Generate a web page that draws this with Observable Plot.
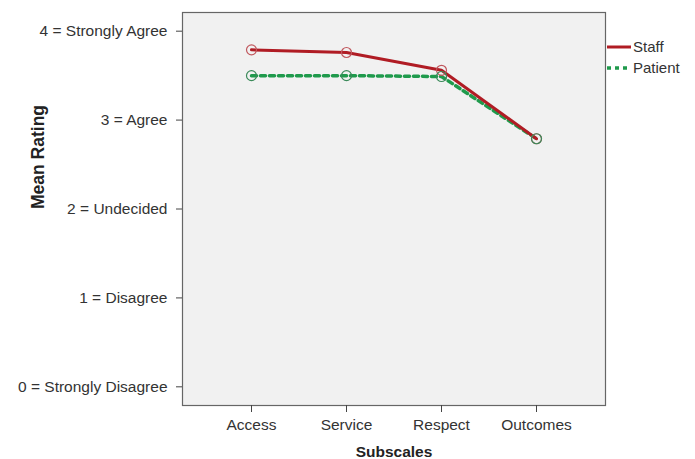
<!DOCTYPE html>
<html><head><meta charset="utf-8">
<script src="https://cdn.jsdelivr.net/npm/d3@7"></script>
<script src="https://cdn.jsdelivr.net/npm/@observablehq/plot@0.6"></script>
<style>
body{margin:0;background:#fff;font-family:"Liberation Sans",Arial,sans-serif;}
#chart{position:relative;width:695px;height:459px;}
</style></head><body>
<div id="chart"></div>
<script>
const subscales = ["Access","Service","Respect","Outcomes"];
const staff = [3.79, 3.76, 3.56, 2.79];
const patient = [3.50, 3.50, 3.49, 2.79];
const yTickValues = [0,1,2,3,4];
const yTickLabels = ["0 = Strongly Disagree","1 = Disagree","2 = Undecided","3 = Agree","4 = Strongly Agree"];
const seriesNames = ["Staff","Patient"];

const staffData = subscales.map((s,i)=>({subscale:s, value:staff[i]}));
const patientData = subscales.map((s,i)=>({subscale:s, value:patient[i]}));

const red = "#b01c24", green = "#1f9a4c";

const plot = Plot.plot({
  width: 695, height: 459,
  marginLeft: 182, marginTop: 12, marginRight: 90, marginBottom: 54,
  style:{fontFamily:"Liberation Sans, Arial, sans-serif", fontSize:"15px", color:"#333", background:"#fff"},
  x:{type:"point", domain:subscales, padding:0.72, label:null},
  y:{domain:[-0.21,4.21], label:null},
  marks:[
    Plot.frame({fill:"#f1f1f1", stroke:"#666", strokeWidth:1.2}),
    Plot.axisY({ticks:yTickValues, tickFormat:d=>yTickLabels[yTickValues.indexOf(d)], tickSize:6, tickPadding:9, fontSize:15.5, stroke:"#444", fill:"#333"}),
    Plot.axisX({tickSize:7, tickPadding:6, fontSize:15.5, stroke:"#444", fill:"#333"}),
    Plot.text(["Mean Rating"], {frameAnchor:"left", rotate:-90, dx:-144, fontWeight:"bold", fontSize:17.5, fill:"#222"}),
    Plot.text(["Subscales"], {frameAnchor:"bottom", dy:51, fontWeight:"bold", fontSize:15.5, fill:"#222"}),
    Plot.line(patientData, {x:"subscale", y:"value", stroke:green, strokeWidth:3.5, strokeDasharray:"5,4"}),
    Plot.line(staffData, {x:"subscale", y:"value", stroke:red, strokeWidth:3}),
    Plot.dot(staffData, {x:"subscale", y:"value", r:5, stroke:"#c0585e", strokeWidth:1.2, fill:"none"}),
    Plot.dot(patientData, {x:"subscale", y:"value", r:5, stroke:"#3b8a5a", strokeWidth:1.2, fill:"none"})
  ]
});
document.getElementById("chart").appendChild(plot);

// legend inside the svg, right of the frame
const svg = d3.select(plot);
const lg = svg.append("g").attr("font-family","Liberation Sans, Arial, sans-serif").attr("font-size",15).attr("text-anchor","start");
const legendItems = [{name:seriesNames[0], color:red, dash:null, w:3},{name:seriesNames[1], color:green, dash:"4,4", w:3.5}];
legendItems.forEach((d,i)=>{
  const y = 47 + i*21;
  lg.append("line").attr("x1",607).attr("x2",631).attr("y1",y).attr("y2",y)
    .attr("stroke",d.color).attr("stroke-width",d.w).attr("stroke-dasharray",d.dash);
  lg.append("text").attr("x",633).attr("y",y).attr("dy","0.35em").attr("fill","#333").text(d.name);
});
</script>
</body></html>
